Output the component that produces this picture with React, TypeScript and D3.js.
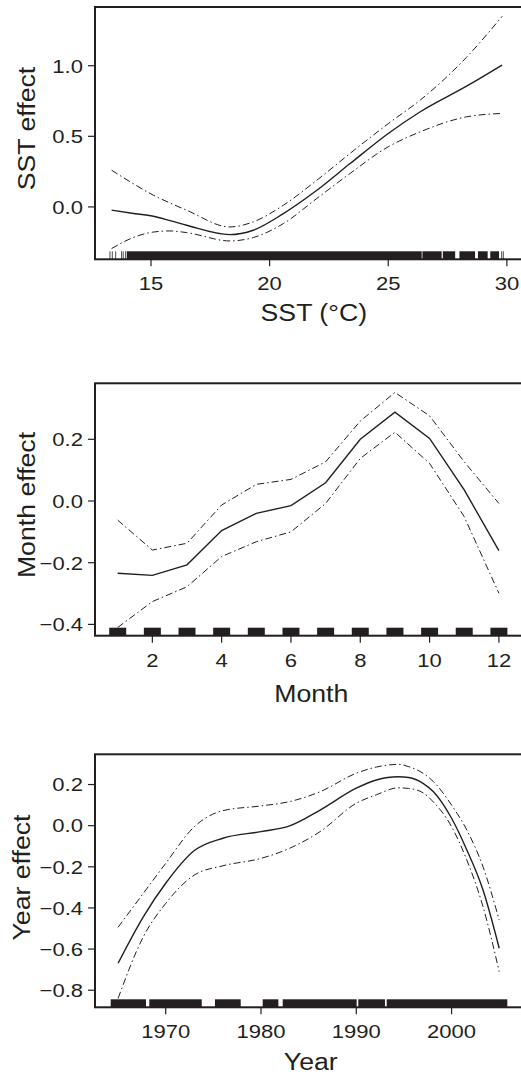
import React from "react";
import * as d3 from "d3";

// ---------- data ----------
const sstX = [13.34, 14.2, 15.1, 15.8, 16.5, 18.33, 19.31, 20.58, 21.99, 23.39, 25.0, 26.35, 28.3, 29.8];
const sstFit = [-0.023, -0.045, -0.066, -0.097, -0.13, -0.196, -0.165, -0.047, 0.118, 0.307, 0.52, 0.674, 0.855, 1.005];
const sstUpper = [0.26, 0.17, 0.083, 0.028, -0.023, -0.142, -0.106, 0.012, 0.189, 0.379, 0.59, 0.757, 1.06, 1.35];
const sstLower = [-0.295, -0.22, -0.178, -0.17, -0.182, -0.241, -0.217, -0.118, 0.06, 0.237, 0.426, 0.532, 0.638, 0.662];
const sstRugRanges: [number, number][] = [
  [13.98, 26.41], [26.44, 27.25], [27.3, 27.82], [28.0, 28.66], [28.78, 29.19], [29.3, 29.67],
];
const sstRugTicks = [13.27, 13.37, 13.51, 13.76, 13.83, 13.93, 29.78, 29.85];
const sstXTicks = [15, 20, 25, 30];
const sstYTicks = [0, 0.5, 1.0];

const months = [1, 2, 3, 4, 5, 6, 7, 8, 9, 10, 11, 12];
const monthFit = [-0.234, -0.241, -0.207, -0.096, -0.04, -0.015, 0.059, 0.2, 0.288, 0.203, 0.036, -0.161];
const monthUpper = [-0.062, -0.159, -0.137, -0.013, 0.054, 0.07, 0.127, 0.259, 0.352, 0.276, 0.127, -0.008];
const monthLower = [-0.41, -0.326, -0.278, -0.18, -0.132, -0.1, -0.008, 0.138, 0.223, 0.122, -0.051, -0.299];
const monthRugJitter = 0.245;
const monthXTicks = [2, 4, 6, 8, 10, 12];
const monthYTicks = [-0.4, -0.2, 0, 0.2];

const yearX = [1965, 1967.65, 1970, 1973, 1976, 1980, 1983, 1986.2, 1990, 1992.1, 1994.4, 1995.5, 1997, 1998.1, 2000, 2001.6, 2003.3, 2005];
const yearFit = [-0.669, -0.443, -0.28, -0.121, -0.061, -0.029, -0.001, 0.076, 0.182, 0.222, 0.238, 0.234, 0.206, 0.165, 0.036, -0.118, -0.313, -0.596];
const yearUpper = [-0.494, -0.329, -0.183, -0.005, 0.073, 0.096, 0.117, 0.165, 0.255, 0.285, 0.298, 0.287, 0.255, 0.214, 0.1, -0.021, -0.2, -0.459];
const yearLower = [-0.84, -0.54, -0.378, -0.24, -0.195, -0.159, -0.11, -0.029, 0.109, 0.15, 0.184, 0.181, 0.16, 0.115, -0.005, -0.167, -0.394, -0.71];
const yearRugRanges: [number, number][] = [
  [1964.23, 1967.93], [1968.28, 1973.78], [1975.17, 1977.87], [1980.18, 1981.82],
  [1982.28, 1990.04], [1990.21, 1993.01], [1993.19, 2005.85],
];
const yearXTicks = [1970, 1980, 1990, 2000];
const yearYTicks = [-0.8, -0.6, -0.4, -0.2, 0, 0.2];

// ---------- styling ----------
const INK = "#231f20";
const FONT = "'Liberation Sans', Arial, Helvetica, sans-serif";
const TICK_FS = 19;
const TITLE_FS = 23;
const SX = 1.16;
const LEFT = 95;
const RIGHT = 528;

const fmt = (v: number) => {
  const s = Math.abs(v).toFixed(1);
  return v < -1e-9 ? "\u2212" + s : s;
};

type PanelProps = {
  top: number;
  bottom: number;
  xDomain: [number, number];
  yDomain: [number, number];
  xs: number[];
  fit: number[];
  upper: number[];
  lower: number[];
  curve: d3.CurveFactory;
  xTicks: number[];
  yTicks: number[];
  xTickFmt: (v: number) => string;
  rugRanges: [number, number][];
  rugTicks: number[];
  xTitle: string;
  yTitle: string;
  xTitleX: number;
  xTitleY: number;
  yTitleX: number;
  yTitleY: number;
};

function Label({ x, y, anchor, size, rotate = 0, children }: any) {
  return (
    <text
      transform={`translate(${x},${y}) rotate(${rotate}) scale(${SX},1)`}
      textAnchor={anchor}
      fontSize={size}
      fontFamily={FONT}
      fill={INK}
    >
      {children}
    </text>
  );
}

function Panel(p: PanelProps) {
  const x = d3.scaleLinear().domain(p.xDomain).range([LEFT, RIGHT]);
  const y = d3.scaleLinear().domain(p.yDomain).range([p.bottom, p.top]);
  const line = (vals: number[]) =>
    d3
      .line<number>()
      .x((_, i) => x(p.xs[i]))
      .y((v) => y(v))
      .curve(p.curve)(vals) || "";
  const rugH = 8;
  return (
    <g>
      {/* rug */}
      {p.rugRanges.map(([a, b], i) => (
        <rect key={"r" + i} x={x(a)} y={p.bottom - rugH} width={x(b) - x(a)} height={rugH} fill={INK} />
      ))}
      {p.rugTicks.map((v, i) => (
        <line key={"t" + i} x1={x(v)} x2={x(v)} y1={p.bottom - rugH} y2={p.bottom} stroke={INK} strokeWidth={0.8} />
      ))}
      {/* curves */}
      <path d={line(p.upper)} fill="none" stroke={INK} strokeWidth={1} strokeDasharray="7,3,1.5,3" />
      <path d={line(p.lower)} fill="none" stroke={INK} strokeWidth={1} strokeDasharray="7,3,1.5,3" />
      <path d={line(p.fit)} fill="none" stroke={INK} strokeWidth={1.4} />
      {/* frame */}
      <rect x={LEFT} y={p.top} width={RIGHT - LEFT} height={p.bottom - p.top} fill="none" stroke={INK} strokeWidth={2} />
      {/* x ticks */}
      {p.xTicks.map((t) => (
        <g key={"x" + t}>
          <line x1={x(t)} x2={x(t)} y1={p.bottom} y2={p.bottom + 7} stroke={INK} strokeWidth={1.2} />
          <Label x={x(t)} y={p.bottom + 31} anchor="middle" size={TICK_FS}>
            {p.xTickFmt(t)}
          </Label>
        </g>
      ))}
      {/* y ticks */}
      {p.yTicks.map((t) => (
        <g key={"y" + t}>
          <line x1={LEFT - 7} x2={LEFT} y1={y(t)} y2={y(t)} stroke={INK} strokeWidth={1.2} />
          <Label x={83} y={y(t) + 6.8} anchor="end" size={TICK_FS}>
            {fmt(t)}
          </Label>
        </g>
      ))}
      <Label x={p.xTitleX} y={p.xTitleY} anchor="middle" size={TITLE_FS}>
        {p.xTitle}
      </Label>
      <Label x={p.yTitleX} y={p.yTitleY} anchor="middle" size={TITLE_FS} rotate={-90}>
        {p.yTitle}
      </Label>
    </g>
  );
}

export default function App() {
  return (
    <svg
      width={521}
      height={1074}
      viewBox="0 0 521 1074"
      style={{ position: "absolute", left: 0, top: 0, background: "#fff" }}
    >
      <rect width={521} height={1074} fill="#fff" />
      <Panel
        top={7}
        bottom={259.3}
        xDomain={[12.64, 30.89]}
        yDomain={[-0.371, 1.416]}
        xs={sstX}
        fit={sstFit}
        upper={sstUpper}
        lower={sstLower}
        curve={d3.curveMonotoneX}
        xTicks={sstXTicks}
        yTicks={sstYTicks}
        xTickFmt={(v) => String(v)}
        rugRanges={sstRugRanges}
        rugTicks={sstRugTicks}
        xTitle="SST (°C)"
        yTitle="SST effect"
        xTitleX={313.8}
        xTitleY={321}
        yTitleX={35}
        yTitleY={128.5}
      />
      <Panel
        top={383.3}
        bottom={635.7}
        xDomain={[0.345, 12.84]}
        yDomain={[-0.4366, 0.3815]}
        xs={months}
        fit={monthFit}
        upper={monthUpper}
        lower={monthLower}
        curve={d3.curveLinear}
        xTicks={monthXTicks}
        yTicks={monthYTicks}
        xTickFmt={(v) => String(v)}
        rugRanges={months.map((m) => [m - monthRugJitter, m + monthRugJitter] as [number, number])}
        rugTicks={[]}
        xTitle="Month"
        yTitle="Month effect"
        xTitleX={311.3}
        xTitleY={701.7}
        yTitleX={35}
        yTitleY={505}
      />
      <Panel
        top={754.3}
        bottom={1007.3}
        xDomain={[1962.58, 2008.02]}
        yDomain={[-0.883, 0.347]}
        xs={yearX}
        fit={yearFit}
        upper={yearUpper}
        lower={yearLower}
        curve={d3.curveMonotoneX}
        xTicks={yearXTicks}
        yTicks={yearYTicks}
        xTickFmt={(v) => String(v)}
        rugRanges={yearRugRanges}
        rugTicks={[]}
        xTitle="Year"
        yTitle="Year effect"
        xTitleX={310.8}
        xTitleY={1070}
        yTitleX={30}
        yTitleY={877.5}
      />
    </svg>
  );
}
